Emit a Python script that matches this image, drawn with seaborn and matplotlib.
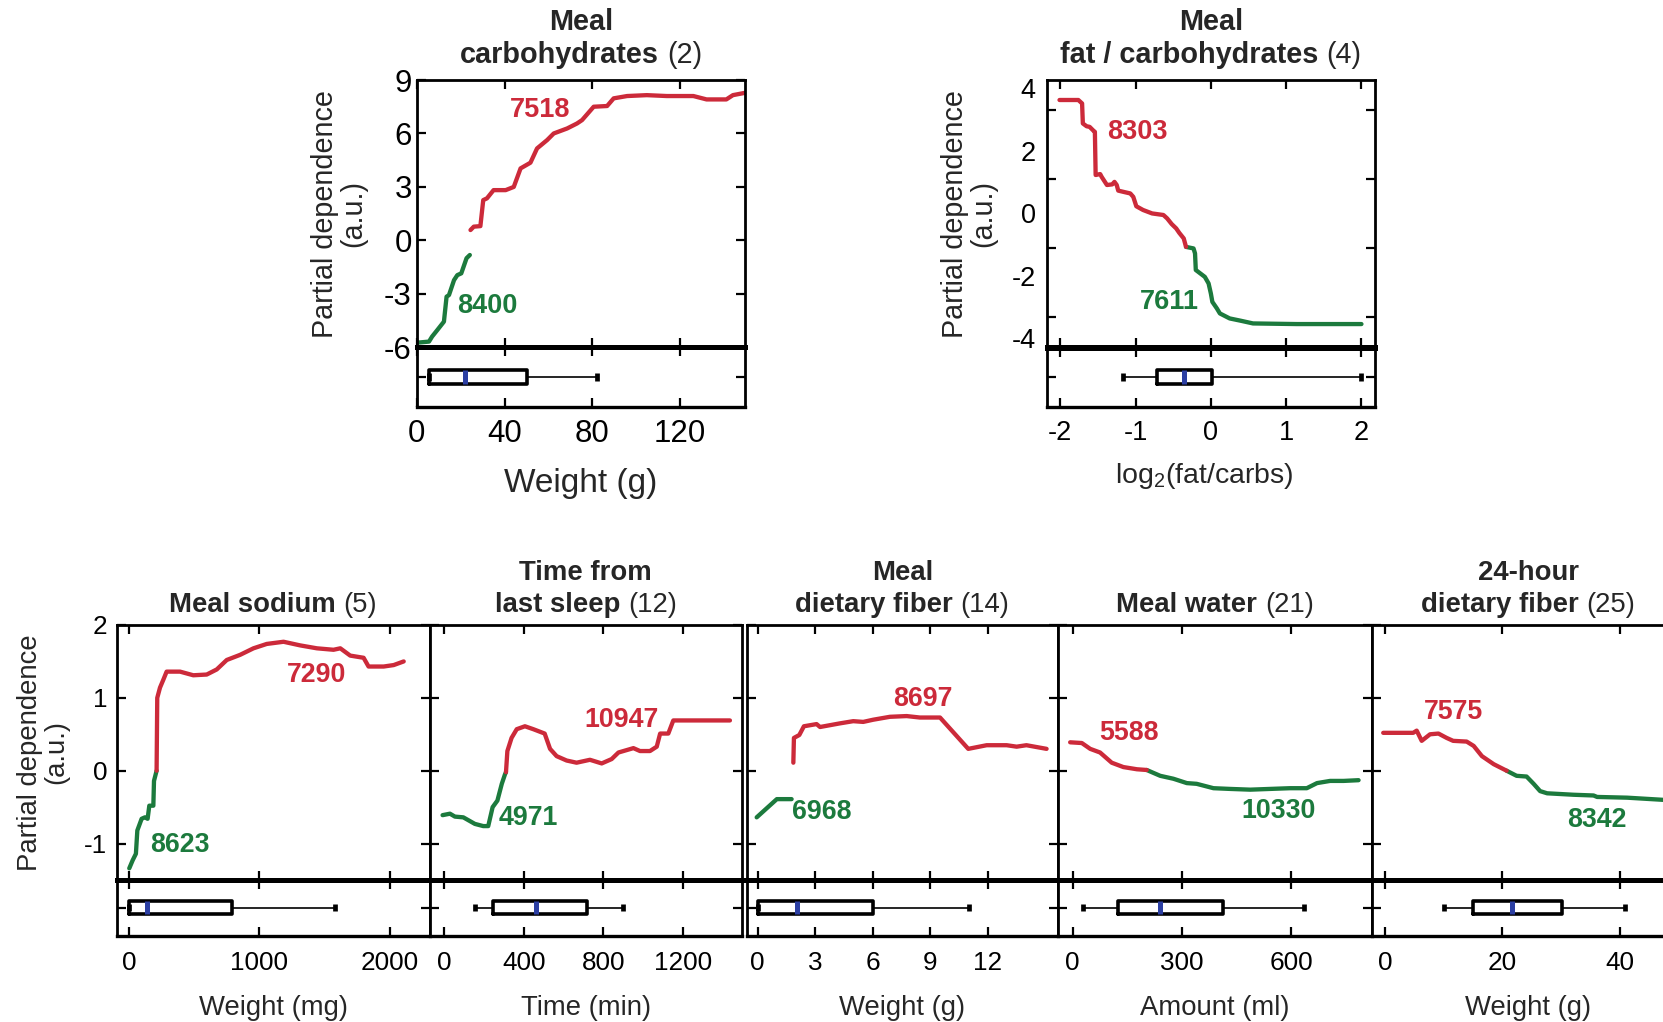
import matplotlib
matplotlib.use("Agg")
import numpy as np
import matplotlib.pyplot as plt
from matplotlib.transforms import offset_copy
import seaborn as sns

sns.set_theme(style="ticks")
plt.rcParams["font.family"] = ["Liberation Sans", "DejaVu Sans"]
plt.rcParams["mathtext.fontset"] = "custom"
plt.rcParams["mathtext.rm"] = "Liberation Sans"
plt.rcParams["mathtext.it"] = "Liberation Sans:italic"
plt.rcParams["mathtext.bf"] = "Liberation Sans:bold"
plt.rcParams["axes.unicode_minus"] = False

RED = "#cc2a3a"
GREEN = "#1c7a3d"
BLUE = "#2c3fa3"

# ---------------------------------------------------------------- data
# Meal carbohydrates (rank 2)
carb_green_x = [0.3, 5.6, 7.0, 9.4, 12.4, 13.6, 14.7, 17.0, 18.5, 20.3, 22.7, 24.2]
carb_green_y = [-5.74, -5.68, -5.4, -5.03, -4.56, -3.16, -3.07, -2.23, -1.95, -1.85, -1.0, -0.82]
carb_red_x = [24.5, 26.0, 29.0, 30.3, 32.0, 35.0, 40.5, 44.2, 47.3, 51.8, 54.8, 59.4, 62.4,
              68.5, 73.0, 75.3, 80.6, 86.7, 89.7, 95.8, 104.8, 113.9, 126.0, 132.0, 141.0,
              144.0, 149.5]
carb_red_y = [0.58, 0.77, 0.80, 2.26, 2.36, 2.82, 2.82, 3.00, 4.04, 4.36, 5.16, 5.63, 6.00,
              6.28, 6.56, 6.75, 7.50, 7.54, 7.97, 8.10, 8.15, 8.10, 8.10, 7.91, 7.91, 8.15, 8.28]
carb_counts = ["7518", "8400"]
carb_box = [5.6, 5.6, 21.8, 50.3, 82.1]  # whislo, q1, median, q3, whishi

# Meal fat / carbohydrates (rank 4)
fc_red_x = [-2.01, -1.76, -1.71, -1.70, -1.65, -1.61, -1.56, -1.54, -1.53, -1.47, -1.45,
            -1.38, -1.31, -1.28, -1.25, -1.23, -1.16, -1.07, -1.03, -0.99, -0.90, -0.78,
            -0.63, -0.58, -0.52, -0.46, -0.42, -0.36, -0.33]
fc_red_y = [3.63, 3.63, 3.52, 2.88, 2.79, 2.77, 2.65, 2.61, 1.23, 1.26, 1.17, 0.91, 0.93,
            1.01, 0.91, 0.73, 0.69, 0.64, 0.53, 0.23, 0.11, 0.00, -0.05, -0.16, -0.34,
            -0.48, -0.62, -0.80, -1.07]
fc_green_x = [-0.33, -0.23, -0.21, -0.20, -0.14, -0.08, -0.03, 0.00, 0.02, 0.08, 0.12, 0.25,
              0.39, 0.56, 1.14, 2.00]
fc_green_y = [-1.07, -1.12, -1.28, -1.81, -1.92, -2.03, -2.24, -2.56, -2.83, -3.04, -3.20,
              -3.36, -3.43, -3.52, -3.54, -3.54]
fc_counts = ["8303", "7611"]
fc_box = [-1.17, -0.72, -0.36, 0.01, 2.0]

# Meal sodium (rank 5)
sod_green_x = [0, 26, 51, 62, 95, 120, 141, 154, 185, 190, 210]
sod_green_y = [-1.34, -1.23, -1.14, -0.82, -0.66, -0.64, -0.66, -0.48, -0.48, -0.14, 0.0]
sod_red_x = [210, 215, 236, 262, 287, 390, 492, 595, 672, 749, 851, 954, 1056, 1185, 1313,
             1441, 1569, 1621, 1697, 1800, 1838, 1954, 2031, 2108]
sod_red_y = [0.0, 1.0, 1.14, 1.25, 1.36, 1.36, 1.31, 1.32, 1.39, 1.52, 1.59, 1.68, 1.74,
             1.77, 1.72, 1.68, 1.66, 1.68, 1.58, 1.55, 1.43, 1.43, 1.45, 1.50]
sod_counts = ["7290", "8623"]
sod_box = [0, 0, 133, 792, 1582]

# Time from last sleep (rank 12)
sleep_green_x = [-7, 30, 55, 97, 155, 197, 222, 244, 268, 290, 306, 311]
sleep_green_y = [-0.61, -0.59, -0.63, -0.64, -0.73, -0.76, -0.76, -0.50, -0.41, -0.18,
                 -0.05, -0.02]
sleep_red_x = [311, 318, 339, 365, 406, 448, 505, 532, 565, 615, 665, 732, 791, 841, 875,
               950, 983, 1033, 1067, 1084, 1125, 1150, 1434]
sleep_red_y = [-0.02, 0.27, 0.45, 0.57, 0.61, 0.57, 0.51, 0.30, 0.20, 0.14, 0.11, 0.15,
               0.10, 0.16, 0.25, 0.31, 0.27, 0.27, 0.33, 0.51, 0.51, 0.69, 0.69]
sleep_counts = ["10947", "4971"]
sleep_box = [155, 247, 461, 719, 900]

# Meal dietary fiber (rank 14)
fib_green_x = [-0.05, 1.0, 1.77]
fib_green_y = [-0.64, -0.39, -0.39]
fib_red_x = [1.86, 1.89, 2.17, 2.41, 3.07, 3.25, 4.29, 4.98, 5.5, 6.02, 6.89, 7.76, 8.45,
             9.5, 10.97, 11.93, 12.97, 13.49, 14.0, 15.05]
fib_red_y = [0.11, 0.45, 0.49, 0.61, 0.64, 0.60, 0.65, 0.68, 0.67, 0.70, 0.74, 0.75, 0.73,
             0.73, 0.30, 0.35, 0.35, 0.33, 0.35, 0.30]
fib_counts = ["8697", "6968"]
fib_box = [0, 0, 2.03, 6.02, 11.02]

# Meal water (rank 21)
wat_red_x = [-7, 25, 48, 75, 107, 139, 176, 203]
wat_red_y = [0.39, 0.38, 0.30, 0.25, 0.11, 0.05, 0.02, 0.01]
wat_green_x = [203, 240, 276, 313, 340, 386, 432, 487, 541, 596, 642, 670, 706, 743, 784]
wat_green_y = [0.01, -0.07, -0.11, -0.17, -0.18, -0.24, -0.25, -0.26, -0.25, -0.24, -0.24,
               -0.17, -0.14, -0.14, -0.13]
wat_counts = ["5588", "10330"]
wat_box = [27, 125, 240, 413, 633]

# 24-hour dietary fiber (rank 25)
f24_red_x = [-0.3, 4.8, 5.4, 6.25, 7.67, 9.1, 10.5, 11.6, 13.9, 15.1, 16.5, 18.5, 20.7]
f24_red_y = [0.52, 0.52, 0.55, 0.41, 0.50, 0.51, 0.45, 0.41, 0.40, 0.34, 0.20, 0.09, 0.0]
f24_green_x = [20.7, 22.4, 24.1, 25.3, 26.4, 27.6, 32.1, 35.5, 36.1, 41.2, 47.4, 50.5]
f24_green_y = [0.0, -0.07, -0.08, -0.18, -0.28, -0.31, -0.33, -0.34, -0.36, -0.37, -0.40,
               -0.41]
f24_counts = ["7575", "8342"]
f24_box = [10.1, 14.9, 21.7, 30.2, 40.9]

# ---------------------------------------------------------------- figure
W, H = 1663, 1022
fig = plt.figure(figsize=(W / 100, H / 100), dpi=100)
fig.patch.set_facecolor("white")


def px_axes(x0, y0, x1, y1):
    return fig.add_axes([x0 / W, 1 - y1 / H, (x1 - x0) / W, (y1 - y0) / H])


def fig_text(x, y, s, **kw):
    return fig.text(x / W, 1 - y / H, s, **kw)


def panel_title(ax, lines, count, size, gap, step):
    renderer = fig.canvas.get_renderer()
    n = len(lines)
    for i, line in enumerate(lines):
        dy = gap + (n - 1 - i) * step
        if i < n - 1:
            ax.text(0.5, 1.0, line, fontsize=size, fontweight="bold", ha="center",
                    va="baseline",
                    transform=offset_copy(ax.transAxes, fig=fig, x=0, y=dy, units="dots"))
        else:
            tb = ax.text(0.5, 1.0, line, fontsize=size, fontweight="bold", ha="left",
                         va="baseline", transform=ax.transAxes)
            tn = ax.text(0.5, 1.0, count, fontsize=size, ha="left", va="baseline",
                         transform=ax.transAxes)
            wb = tb.get_window_extent(renderer).width
            wn = tn.get_window_extent(renderer).width
            sp = size * 0.28 * fig.dpi / 72
            x0 = -(wb + sp + wn) / 2
            tb.set_transform(offset_copy(ax.transAxes, fig=fig, x=x0, y=dy, units="dots"))
            tn.set_transform(offset_copy(ax.transAxes, fig=fig, x=x0 + wb + sp, y=dy,
                                         units="dots"))


def style_axes(a):
    for s in a.spines.values():
        s.set_linewidth(2.0)
        s.set_color("black")
    a.tick_params(which="both", direction="in", top=True, bottom=True, left=True,
                  right=True, length=6.5, width=1.6, color="black", labelcolor="black")
    a.grid(False)


def draw_panel(ax, bx, red, green, counts, label_pos, box, xlim, ylim, xticks, yticks,
               tick_size, ann_size, ylabels=True, ypad=4):
    sns.lineplot(x=np.asarray(green[0]), y=np.asarray(green[1]), ax=ax, color=GREEN,
                 lw=3.1, estimator=None, sort=False, legend=False,
                 solid_capstyle="round", solid_joinstyle="round")
    sns.lineplot(x=np.asarray(red[0]), y=np.asarray(red[1]), ax=ax, color=RED,
                 lw=3.1, estimator=None, sort=False, legend=False,
                 solid_capstyle="round", solid_joinstyle="round")
    (rx, ry), (gx, gy) = label_pos
    ax.text(rx, ry, counts[0], color=RED, fontweight="bold", fontsize=ann_size,
            ha="center", va="center")
    ax.text(gx, gy, counts[1], color=GREEN, fontweight="bold", fontsize=ann_size,
            ha="center", va="center")

    stats = [dict(whislo=box[0], q1=box[1], med=box[2], q3=box[3], whishi=box[4],
                  fliers=[])]
    bx.bxp(stats, positions=[0], widths=0.46, orientation="horizontal",
           showfliers=False, manage_ticks=False, capwidths=0.26,
           boxprops=dict(color="black", lw=2.6),
           whiskerprops=dict(color="black", lw=1.2),
           capprops=dict(color="black", lw=3.4, solid_capstyle="butt"),
           medianprops=dict(color=BLUE, lw=3.6, solid_capstyle="butt"))

    for a in (ax, bx):
        style_axes(a)
        a.set_xlim(xlim)
        a.set_xticks(xticks)
        a.set_xlabel("")
        a.set_ylabel("")
    ax.set_ylim(ylim)
    ax.set_yticks(yticks)
    ax.tick_params(labelbottom=False, labelsize=tick_size, pad=ypad, labelleft=ylabels)
    bx.set_ylim(-1, 1)
    bx.set_yticks([0])
    bx.tick_params(axis="y", labelleft=False)
    bx.tick_params(axis="x", labelsize=tick_size)
    ax.spines["bottom"].set_linewidth(3.6)
    bx.spines["top"].set_linewidth(3.6)
    bx.spines["bottom"].set_linewidth(2.4)


# ---------------------------------------------------------------- top row
ax1 = px_axes(416.7, 80, 745, 347.3)
bx1 = px_axes(416.7, 347.3, 745, 406.7)
draw_panel(ax1, bx1, (carb_red_x, carb_red_y), (carb_green_x, carb_green_y), carb_counts,
           [(56, 7.31), (32.1, -3.68)], carb_box, (0, 149.5), (-6, 9),
           [0, 40, 80, 120], [-6, -3, 0, 3, 6, 9], 22.5, 19.5, ypad=3.5)
bx1.tick_params(axis="x", pad=9.0)
panel_title(ax1, ["Meal", "carbohydrates"], "(2)", 20.8, 16.7, 33.3)
fig_text(580.8, 491.7, "Weight (g)", fontsize=24, ha="center", va="baseline")
fig_text(339, 213.7, "Partial dependence\n(a.u.)", fontsize=20.7, rotation=90,
         ha="center", va="center", linespacing=1.0)

ax2 = px_axes(1046.7, 80, 1375, 347.5)
bx2 = px_axes(1046.7, 347.5, 1375, 406.7)
draw_panel(ax2, bx2, (fc_red_x, fc_red_y), (fc_green_x, fc_green_y), fc_counts,
           [(-0.98, 2.61), (-0.55, -2.83)], fc_box, (-2.18, 2.18), (-4.29, 4.27),
           [-2, -1, 0, 1, 2], [-4, -2, 0, 2, 4], 19.5, 19.5, ypad=8.0)
ax2.tick_params(axis="y", which="major", length=0)
ax2.set_yticks([-3.3, -1.1, 1.1, 3.3], minor=True)
ax2.tick_params(axis="y", which="minor", direction="in", left=True, right=True,
                length=6.5, width=1.6)
bx2.tick_params(axis="x", pad=9.5)
panel_title(ax2, ["Meal", "fat / carbohydrates"], "(4)", 20.8, 16.7, 33.3)
fig_text(1204, 483.3, r"log$_2$(fat/carbs)", fontsize=20.5, ha="center", va="baseline")
fig_text(969, 213.7, "Partial dependence\n(a.u.)", fontsize=20.7, rotation=90,
         ha="center", va="center", linespacing=1.0)

# ---------------------------------------------------------------- bottom row
edges = [(116.5, 430.0), (430.0, 741.5), (746.5, 1058.3), (1058.3, 1371.7),
         (1371.7, 1685.0)]
bottom = [
    dict(red=(sod_red_x, sod_red_y), green=(sod_green_x, sod_green_y), counts=sod_counts,
         pos=[(1438, 1.31), (389, -1.02)], box=sod_box, xlim=(-98, 2310),
         xticks=[0, 1000, 2000], title=(["Meal sodium"], "(5)"), xlabel="Weight (mg)"),
    dict(red=(sleep_red_x, sleep_red_y), green=(sleep_green_x, sleep_green_y),
         counts=sleep_counts, pos=[(891, 0.70), (423, -0.65)], box=sleep_box,
         xlim=(-70, 1492), xticks=[0, 400, 800, 1200],
         title=(["Time from", "last sleep"], "(12)"), xlabel="Time (min)"),
    dict(red=(fib_red_x, fib_red_y), green=(fib_green_x, fib_green_y), counts=fib_counts,
         pos=[(8.6, 0.99), (3.33, -0.56)], box=fib_box, xlim=(-0.58, 15.66),
         xticks=[0, 3, 6, 9, 12], title=(["Meal", "dietary fiber"], "(14)"),
         xlabel="Weight (g)"),
    dict(red=(wat_red_x, wat_red_y), green=(wat_green_x, wat_green_y), counts=wat_counts,
         pos=[(153, 0.52), (564, -0.55)], box=wat_box, xlim=(-39.5, 820),
         xticks=[0, 300, 600], title=(["Meal water"], "(21)"), xlabel="Amount (ml)"),
    dict(red=(f24_red_x, f24_red_y), green=(f24_green_x, f24_green_y), counts=f24_counts,
         pos=[(11.6, 0.81), (36.0, -0.68)], box=f24_box, xlim=(-2.26, 51.06),
         xticks=[0, 20, 40], title=(["24-hour", "dietary fiber"], "(25)"),
         xlabel="Weight (g)"),
]

for i, ((x0, x1), p) in enumerate(zip(edges, bottom)):
    ax = px_axes(x0, 625, x1, 880)
    bx = px_axes(x0, 880, x1, 935.5)
    draw_panel(ax, bx, p["red"], p["green"], p["counts"], p["pos"], p["box"], p["xlim"],
               (-1.5, 2), p["xticks"], [-1, 0, 1, 2], 18.8, 19.3, ylabels=(i == 0),
               ypad=6.8)
    bx.tick_params(axis="x", pad=11.0)
    panel_title(ax, p["title"][0], p["title"][1], 19.8, 13.0, 31.7)
    fig_text((x0 + x1) / 2, 1015, p["xlabel"], fontsize=19.8, ha="center", va="baseline")

fig_text(43.3, 752.5, "Partial dependence\n(a.u.)", fontsize=19.8, rotation=90,
         ha="center", va="center", linespacing=1.0)

fig.savefig("out.png", dpi=100, facecolor="white")
